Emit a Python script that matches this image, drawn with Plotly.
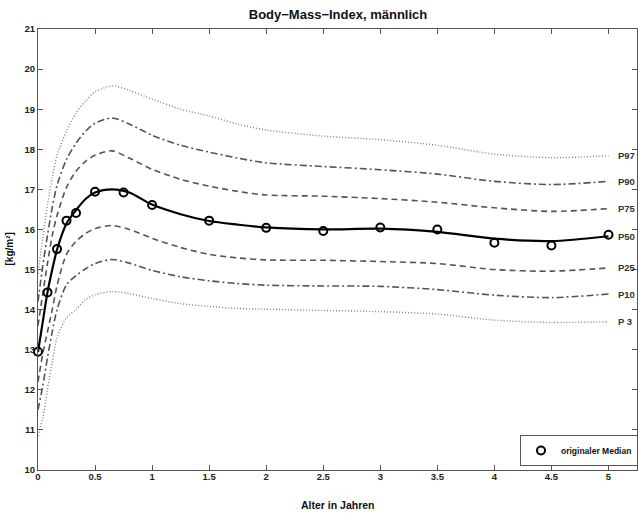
import plotly.graph_objects as go

# --- data ---
age = [0, 0.042, 0.083, 0.125, 0.167, 0.25, 0.333, 0.417, 0.5, 0.65, 0.8, 1,
       1.25, 1.5, 1.75, 2, 2.5, 3, 3.5, 4, 4.5, 5]
p97 = [14.9, 15.8, 16.6, 17.3, 17.85, 18.45, 18.9, 19.2, 19.43, 19.58, 19.47, 19.25,
       19.0, 18.83, 18.63, 18.48, 18.33, 18.24, 18.1, 17.88, 17.79, 17.84]
p90 = [14.2, 15.1, 15.85, 16.55, 17.1, 17.75, 18.15, 18.45, 18.65, 18.78, 18.63, 18.35,
       18.1, 17.93, 17.78, 17.66, 17.57, 17.49, 17.38, 17.2, 17.12, 17.2]
p75 = [13.6, 14.4, 15.15, 15.85, 16.35, 17.05, 17.45, 17.7, 17.85, 17.96, 17.78, 17.5,
       17.25, 17.08, 16.95, 16.86, 16.83, 16.77, 16.68, 16.54, 16.45, 16.52]
p50 = [12.95, 13.7, 14.43, 15.0, 15.5, 16.15, 16.48, 16.76, 16.92, 17.0, 16.92, 16.62,
       16.38, 16.21, 16.12, 16.05, 16.0, 16.02, 15.94, 15.77, 15.71, 15.83]
p25 = [12.2, 12.9, 13.45, 14.0, 14.6, 15.38, 15.7, 15.9, 16.02, 16.1, 16.0, 15.78,
       15.55, 15.38, 15.29, 15.24, 15.23, 15.2, 15.15, 15.0, 14.96, 15.04]
p10 = [11.5, 12.1, 12.8, 13.45, 14.0, 14.62, 14.85, 15.02, 15.15, 15.25, 15.16, 14.98,
       14.82, 14.72, 14.65, 14.61, 14.59, 14.58, 14.5, 14.36, 14.3, 14.39]
p3 = [10.85, 11.3, 12.0, 12.7, 13.3, 13.8, 14.0, 14.25, 14.37, 14.45, 14.4, 14.28,
      14.15, 14.08, 14.03, 14.01, 13.98, 13.95, 13.89, 13.74, 13.68, 13.7]

median_age = [0, 1/12, 2/12, 3/12, 4/12, 6/12, 9/12, 1, 1.5, 2, 2.5, 3, 3.5, 4, 4.5, 5]
median_bmi = [12.95, 14.43, 15.51, 16.22, 16.41, 16.94, 16.92, 16.61, 16.22, 16.04,
              15.96, 16.05, 16.0, 15.67, 15.6, 15.87]

curve_names = ["P97", "P90", "P75", "P50", "P25", "P10", "P 3"]
curve_values = [p97, p90, p75, p50, p25, p10, p3]
curve_dash = ["1px,2px", "7px,3px,2px,3px", "6px,4px", "solid",
              "6px,4px", "7px,3px,2px,3px", "1px,2px"]
curve_color = ["#808080", "#555555", "#555555", "#000000", "#555555", "#555555", "#808080"]
curve_width = [1.4, 1.6, 1.6, 2.2, 1.6, 1.6, 1.4]

x_ticks = [0, 0.5, 1, 1.5, 2, 2.5, 3, 3.5, 4, 4.5, 5]
x_labels = ["0", "0.5", "1", "1.5", "2", "2.5", "3", "3.5", "4", "4.5", "5"]
y_ticks = list(range(10, 22))

FONT = "Liberation Sans"

W, H = 638, 514
ML, MR, MT, MB = 38, 1, 29, 44
PW, PH = W - ML - MR, H - MT - MB

fig = go.Figure()
for name, vals, dash, col, w in zip(curve_names, curve_values, curve_dash, curve_color, curve_width):
    fig.add_trace(go.Scatter(
        x=age, y=vals, mode="lines", name=name, showlegend=False,
        line=dict(color=col, width=w, dash=dash, shape="spline", smoothing=0.8),
        hoverinfo="skip"))
    fig.add_annotation(x=5.07, y=vals[-1], text="<b>%s</b>" % name, showarrow=False,
                       xanchor="left", yanchor="middle",
                       font=dict(family=FONT, size=9.5, color="#333333"))

fig.add_trace(go.Scatter(
    x=median_age, y=median_bmi, mode="markers", name="<b>originaler Median</b>",
    marker=dict(symbol="circle-open", size=8, color="#000000", line=dict(width=2)),
    cliponaxis=False))

axis_common = dict(showline=True, linecolor="#555555", linewidth=1, mirror="ticks",
                   ticks="inside", ticklen=5, tickcolor="#555555", showgrid=False,
                   zeroline=False, tickfont=dict(family=FONT, size=9.5, color="#222222"))

fig.update_xaxes(range=[0, 5.25], tickmode="array", tickvals=x_ticks,
                 ticktext=["<b>%s</b>" % t for t in x_labels], ticklabelstandoff=-2,
                 **axis_common)
fig.update_yaxes(range=[10, 21], tickmode="array", tickvals=y_ticks,
                 ticktext=["<b>%d</b>" % t for t in y_ticks], **axis_common)

fig.add_annotation(x=0.5, y=-35 / PH, xref="paper", yref="paper", showarrow=False,
                   text="<b>Alter in Jahren</b>", yanchor="middle",
                   font=dict(family=FONT, size=10.5, color="#111111"))
fig.add_annotation(x=-29 / PW, y=0.5, xref="paper", yref="paper", showarrow=False,
                   text="<b>[kg/m²]</b>", textangle=-90, xanchor="center",
                   font=dict(family=FONT, size=10, color="#111111"))

fig.update_layout(
    width=W, height=H,
    margin=dict(l=ML, r=MR, t=MT, b=MB, autoexpand=False),
    paper_bgcolor="white", plot_bgcolor="white",
    title=dict(text="<b>Body−Mass−Index, männlich</b>", x=338 / W, xanchor="center",
               y=1 - 14 / H, yanchor="middle",
               font=dict(family=FONT, size=13, color="#111111")),
    legend=dict(x=1 + 1 / PW, xanchor="right", y=4 / PH, yanchor="bottom",
                bgcolor="white", bordercolor="#555555", borderwidth=1,
                font=dict(family=FONT, size=8.5, color="#111111"),
                itemwidth=30, tracegroupgap=0),
    showlegend=True,
)

# remove the default 8px page margin so the 638x514 figure fills the window exactly
fig.write_html("out.html", config={"displayModeBar": False},
               post_script="document.body.style.margin='0px';")
